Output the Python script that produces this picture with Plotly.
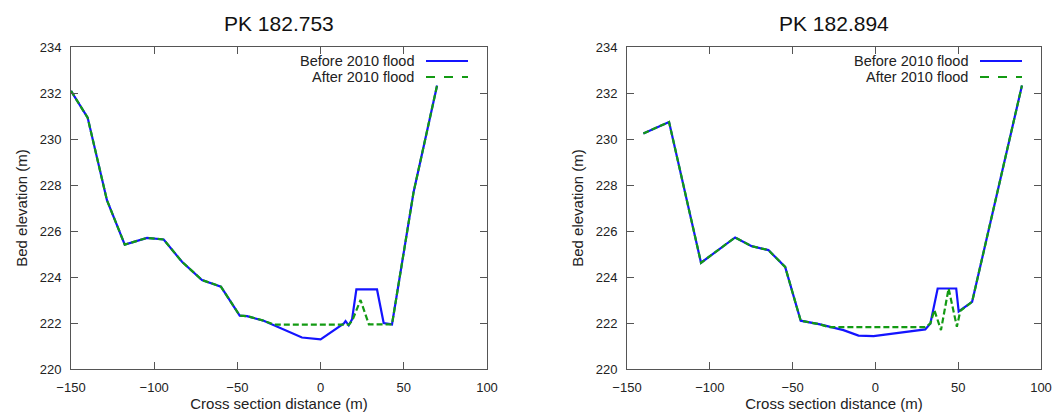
import plotly.graph_objects as go

# ---- data ----
left_title = "PK 182.753"
right_title = "PK 182.894"

left_before_x = [-150, -140, -128.4, -117.7, -104.3, -94.3, -83.3, -71.3, -59.9, -48.6, -44.2, -34.2,
                 -11.2, 0, 14, 15, 16.9, 18.9, 21.5, 33.9, 37.9, 42.9, 55.9, 70]
left_before_y = [232.09, 230.93, 227.34, 225.41, 225.70, 225.63, 224.66, 223.87, 223.58, 222.32, 222.30, 222.10,
                 221.37, 221.29, 221.98, 222.08, 221.9, 222.16, 223.46, 223.46, 222.0, 221.94, 227.7, 232.33]
left_after_x = [-150, -140, -128.4, -117.7, -104.3, -94.3, -83.3, -71.3, -59.9, -48.6, -44.2, -34.2,
                -28, 17, 19, 24, 29, 38, 42.9, 55.9, 70]
left_after_y = [232.09, 230.93, 227.34, 225.41, 225.70, 225.63, 224.66, 223.87, 223.58, 222.32, 222.30, 222.10,
                221.93, 221.93, 222.1, 223.0, 221.94, 221.94, 221.94, 227.7, 232.33]

right_before_x = [-140.1, -124.6, -105.3, -84.7, -74.7, -64.6, -54.5, -45.1, -33.4,
                  -19.3, -10.2, -1.1, 30.1, 33.2, 37.6, 48.8, 50.3, 58.4, 88.5]
right_before_y = [230.24, 230.74, 224.62, 225.72, 225.34, 225.17, 224.44, 222.10, 221.94,
                  221.69, 221.45, 221.43, 221.72, 221.98, 223.5, 223.5, 222.5, 222.92, 232.33]
right_after_x = [-140.1, -124.6, -105.3, -84.7, -74.7, -64.6, -54.5, -45.1, -33.4,
                 -28, 30.1, 33.2, 35.6, 39.6, 44.2, 49.2, 51.3, 58.4, 88.5]
right_after_y = [230.24, 230.74, 224.62, 225.72, 225.34, 225.17, 224.44, 222.10, 221.94,
                 221.82, 221.82, 221.98, 222.56, 221.69, 223.5, 221.84, 222.53, 222.92, 232.33]

series_names = ["Before 2010 flood", "After 2010 flood"]
x_ticks = [-150, -100, -50, 0, 50, 100]
y_ticks = [220, 222, 224, 226, 228, 230, 232, 234]

BLUE = "#1414ff"
GREEN = "#139a13"
FONT = "Liberation Sans, Arial, sans-serif"
TXT = "#222222"

OFF = 8  # page body margin
W, H = 1061 - OFF, 415 - OFF


def px(xs):
    return (xs - OFF) / W


def py(ys):
    return (H - (ys - OFF)) / H


fig = go.Figure()

panels = [
    ("x", "y", left_before_x, left_before_y, left_after_x, left_after_y),
    ("x2", "y2", right_before_x, right_before_y, right_after_x, right_after_y),
]
for xa, ya, bx, by, ax_, ay in panels:
    fig.add_trace(go.Scatter(x=bx, y=by, mode="lines", name=series_names[0],
                             line=dict(color=BLUE, width=2.2), xaxis=xa, yaxis=ya, showlegend=False))
    fig.add_trace(go.Scatter(x=ax_, y=ay, mode="lines", name=series_names[1],
                             line=dict(color=GREEN, width=2.2, dash="6px,3px"), xaxis=xa, yaxis=ya, showlegend=False))

# screen pixel geometry
left_px = (71, 487)
right_px = (627, 1041)
top_px, bot_px = 47, 369
ydom = [py(bot_px), py(top_px)]

axis_common = dict(showgrid=False, zeroline=False, showline=True, linecolor="#555555", linewidth=1,
                   mirror="allticks", ticks="inside", ticklen=7, tickcolor="#555555", automargin=False,
                   tickfont=dict(family=FONT, size=13, color=TXT))

xt = dict(text="Cross section distance (m)", font=dict(family=FONT, size=15, color=TXT), standoff=2)
yt = dict(text="Bed elevation (m)", font=dict(family=FONT, size=15, color=TXT), standoff=8)

fig.update_layout(
    width=W, height=H, margin=dict(l=0, r=0, t=0, b=0),
    paper_bgcolor="white", plot_bgcolor="white",
    xaxis=dict(domain=[px(left_px[0]), px(left_px[1])], range=[-150, 100], tickvals=x_ticks, anchor="y",
               title=xt, ticklabelstandoff=6, **axis_common),
    yaxis=dict(domain=ydom, range=[220, 234], tickvals=y_ticks, anchor="x",
               title=yt, ticklabelstandoff=6, **axis_common),
    xaxis2=dict(domain=[px(right_px[0]), px(right_px[1])], range=[-150, 100], tickvals=x_ticks, anchor="y2",
                title=xt, ticklabelstandoff=6, **axis_common),
    yaxis2=dict(domain=ydom, range=[220, 234], tickvals=y_ticks, anchor="x2",
                title=yt, ticklabelstandoff=6, **axis_common),
)

# titles
for title, (x0, x1) in [(left_title, left_px), (right_title, right_px)]:
    fig.add_annotation(text=title, x=px((x0 + x1) / 2), y=py(23), xref="paper", yref="paper",
                       showarrow=False, xanchor="center", yanchor="middle",
                       font=dict(family=FONT, size=21, color="#111111"))

# gnuplot-style legends (text right-aligned, sample to the right)
legend_specs = [(416, 426, 468), (970, 980, 1022)]
for text_end, l0, l1 in legend_specs:
    for i, (name, col, dash) in enumerate([(series_names[0], BLUE, "solid"), (series_names[1], GREEN, "dash")]):
        yp = py(61 + 16 * i)
        fig.add_annotation(text=name, x=px(text_end), y=yp, xref="paper", yref="paper", showarrow=False,
                           xanchor="right", yanchor="middle", font=dict(family=FONT, size=14.5, color=TXT))
        fig.add_shape(type="line", x0=px(l0), x1=px(l1), y0=yp, y1=yp, xref="paper", yref="paper",
                      line=dict(color=col, width=2.2, dash=dash))

fig.write_html("out.html")
